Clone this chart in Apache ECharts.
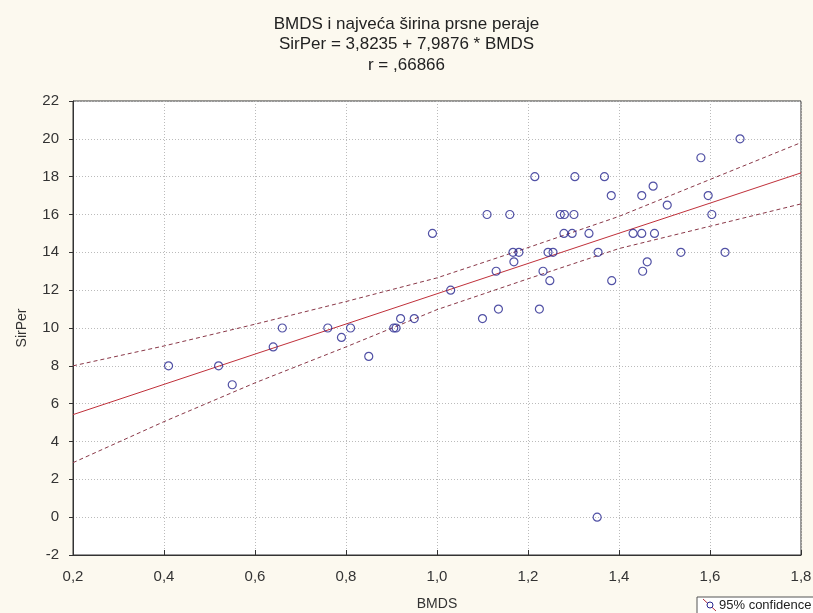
<!DOCTYPE html>
<html>
<head>
<meta charset="utf-8">
<script src="https://cdn.jsdelivr.net/npm/echarts@6/dist/echarts.min.js"></script>
<style>
html,body{margin:0;padding:0;background:#FCF9EF;}
#c{width:813px;height:613px;}
</style>
</head>
<body>
<div id="c"></div>
<script>
// BMDS values (x) and SirPer values (y) of the observations
var bmds = [0.41,0.52,0.55,0.64,0.66,0.76,0.79,0.81,0.85,0.905,0.91,0.92,0.95,0.99,1.03,1.10,1.11,1.13,1.135,1.16,1.167,1.169,1.18,1.215,1.225,1.233,1.244,1.248,1.255,1.271,1.28,1.279,1.297,1.301,1.303,1.334,1.352,1.354,1.368,1.383,1.384,1.431,1.45,1.45,1.452,1.462,1.475,1.478,1.506,1.536,1.58,1.596,1.604,1.633,1.666];
var sirPer = [8,8,7,9,10,10,9.5,10,8.5,10,10,10.5,10.5,15,12,10.5,16,13,11,16,14,13.5,14,18,11,13,14,12.5,14,16,16,15,15,16,18,15,0,14,18,17,12.5,15,15,17,13,13.5,17.5,15,16.5,14,19,17,16,14,20];
// regression line and 95% confidence bands, read at these BMDS values
var bandX = [0.2,0.4,0.6,0.8,1.0,1.2,1.4,1.6,1.8];
var fitY = [5.42,7.02,8.62,10.21,11.81,13.41,15.01,16.6,18.2];
var upperY = [8.0,9.05,10.2,11.4,12.65,14.25,15.9,17.85,19.8];
var lowerY = [2.88,5.05,7.1,9.0,10.97,12.6,14.2,15.38,16.56];
var titleLines = ['BMDS i najveća širina prsne peraje','SirPer = 3,8235 + 7,9876 * BMDS','r = ,66866'];
var xTicks = {min:0.2, max:1.8, step:0.2};
var yTicks = {min:-2, max:22, step:2};

function pairs(xs, ys){ return xs.map(function(x,i){return [x, ys[i]];}); }

var chart = echarts.init(document.getElementById('c'), null, {renderer:'canvas'});
var fnt = '"Liberation Sans", Arial, sans-serif';
chart.setOption({
  backgroundColor:'#FCF9EF',
  animation:false,
  title:{
    text: titleLines.join('\n'),
    left:'center', top:9,
    textStyle:{fontFamily:fnt, fontSize:17, fontWeight:'normal', color:'#222', lineHeight:20.5}
  },
  grid:{left:73, right:12, top:101, bottom:58, outerBoundsMode:'none', containLabel:false,
    show:true, backgroundColor:'#ffffff', borderColor:'#333', borderWidth:1},
  xAxis:{
    type:'value', min:xTicks.min, max:xTicks.max, interval:xTicks.step,
    name:'BMDS', nameLocation:'middle', nameGap:42,
    nameTextStyle:{fontFamily:fnt, fontSize:14, color:'#333'},
    axisLine:{show:true, onZero:false, lineStyle:{color:'#333', width:1}},
    axisTick:{show:true, inside:true, length:5, lineStyle:{color:'#333'}},
    axisLabel:{fontFamily:fnt, fontSize:15, color:'#333', margin:14,
      formatter:function(v){return v.toFixed(1).replace('.',',');}},
    splitLine:{show:true, lineStyle:{color:'#bbb', type:[1,2], width:1}}
  },
  yAxis:{
    type:'value', min:yTicks.min, max:yTicks.max, interval:yTicks.step,
    name:'SirPer', nameLocation:'middle', nameGap:44,
    nameTextStyle:{fontFamily:fnt, fontSize:14, color:'#333'},
    axisLine:{show:true, onZero:false, lineStyle:{color:'#333', width:1}},
    axisTick:{show:true, inside:false, length:4, lineStyle:{color:'#333'}},
    axisLabel:{fontFamily:fnt, fontSize:15, color:'#333', margin:14},
    splitLine:{show:true, lineStyle:{color:'#bbb', type:[1,2], width:1}}
  },
  series:[
    {type:'line', data:pairs(bandX, upperY), symbol:'none', smooth:false,
      lineStyle:{color:'#8a3848', width:1, type:[4,3]}, z:2},
    {type:'line', data:pairs(bandX, lowerY), symbol:'none', smooth:false,
      lineStyle:{color:'#8a3848', width:1, type:[4,3]}, z:2},
    {type:'line', data:pairs(bandX, fitY), symbol:'none',
      lineStyle:{color:'#c0303a', width:1}, z:3},
    {type:'scatter', data:pairs(bmds, sirPer), symbol:'circle', symbolSize:8,
      itemStyle:{color:'rgba(255,255,255,0)', borderColor:'#25258f', borderWidth:1.2}, z:4}
  ],
  graphic:[
    {type:'rect', shape:{x:697, y:597, width:125, height:22},
      style:{fill:'#ffffff', stroke:'#555', lineWidth:1}},
    {type:'line', shape:{x1:703, y1:599, x2:716, y2:611},
      style:{stroke:'#b03040', lineWidth:1}},
    {type:'circle', shape:{cx:710, cy:605, r:3},
      style:{fill:'#ffffff', stroke:'#25258f', lineWidth:1}},
    {type:'text', style:{x:719, y:599, text:'95% confidence', fontFamily:fnt, fontSize:13, fill:'#222'}}
  ]
});
</script>
</body>
</html>
